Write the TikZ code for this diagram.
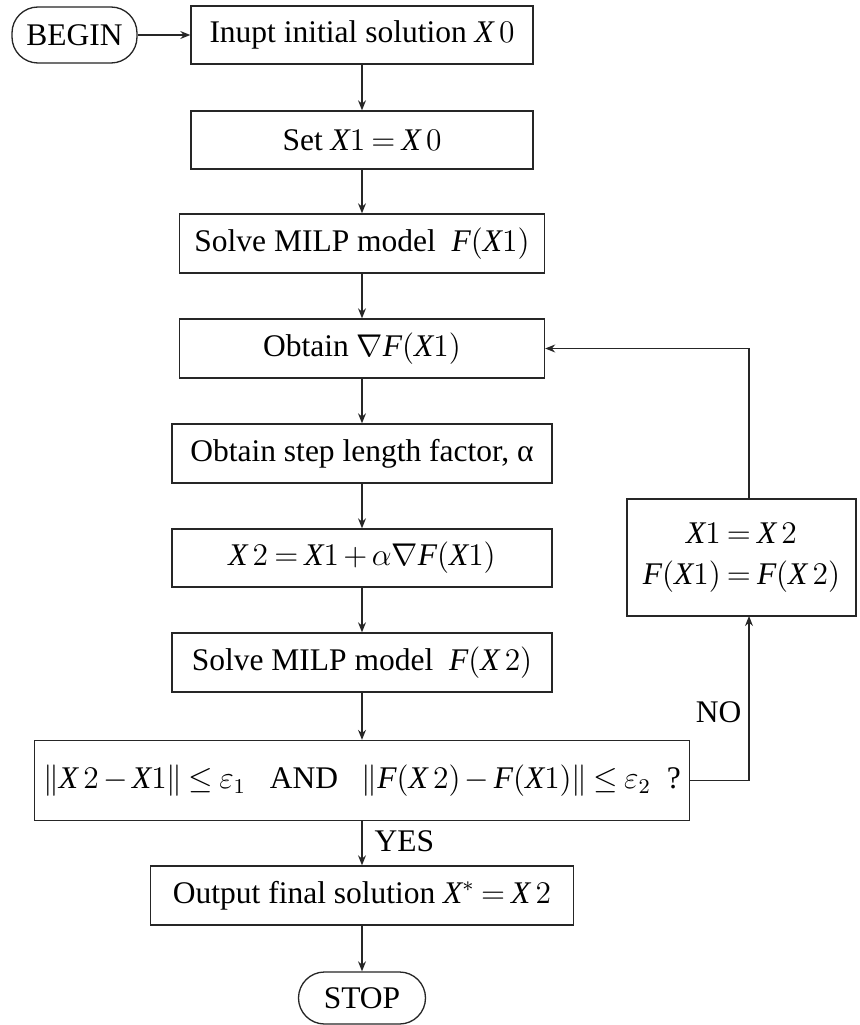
\documentclass[tikz,border=0pt]{standalone}
\usepackage{fontspec}
\setmainfont{Liberation Serif}
\usetikzlibrary{arrows.meta}

\newcommand\vX{\mathit{X}}
\newcommand\vF{\mathit{F}}
% one drawing unit
\newcommand\pu{0.381pt}

\begin{document}
\medmuskip=2.5mu plus 2mu minus 2mu
\thickmuskip=3.5mu plus 2mu
\begin{tikzpicture}[x=\pu,y=-\pu,
  font=\fontsize{12}{14.5}\selectfont,
  box/.style={draw=black!85, line width=0.5pt, minimum height={58*\pu}, inner sep=0pt, align=center},
  term/.style={box, rounded corners={26*\pu}},
  flow/.style={draw=black!85, line width=0.5pt, -{Stealth[length=3.8pt,width=3pt]}},
  lbl/.style={inner sep=0pt}
]
\fill[white] (0,0) rectangle (860,1025);
\useasboundingbox (0,0) rectangle (860,1025);

% main column
\node[term, minimum width={125*\pu}, minimum height={56*\pu}] (begin) at (74.5,35) {BEGIN};
\node[box, minimum width={342*\pu}] (input) at (362,35) {Inupt initial solution $\vX\,0$};
\node[box, minimum width={342*\pu}] (set) at (362,140) {Set $\vX 1 = \vX\,0$};
\node[box, minimum width={365*\pu}, minimum height={59*\pu}] (solve1) at (362,243.5) {Solve MILP model \ $\vF(\vX 1)$};
\node[box, minimum width={365*\pu}, minimum height={59*\pu}] (grad) at (362,348.5) {Obtain $\nabla\vF(\vX 1)$};
\node[box, minimum width={380*\pu}, minimum height={59*\pu}] (steplen) at (362,453.5) {Obtain step length factor, α};
\node[box, minimum width={380*\pu}] (update) at (362,558) {$\vX\,2 = \vX 1 + \alpha\nabla\vF(\vX 1)$};
\node[box, minimum width={380*\pu}, minimum height={59*\pu}] (solve2) at (362,662.5) {Solve MILP model \ $\vF(\vX\,2)$};
\node[box, minimum width={655*\pu}, minimum height={80*\pu}] (cond) at (362,780.5)
  {$\|\vX\,2 - \vX 1\| \le \varepsilon_1$\hspace{0.75em}AND\hspace{0.75em}$\|\vF(\vX\,2) - \vF(\vX 1)\| \le \varepsilon_2$ \ ?};
\node[box, minimum width={423*\pu}, minimum height={59*\pu}] (output) at (362,895.5) {Output final solution $\vX^{*} = \vX\,2$};
\node[term, minimum width={127*\pu}, minimum height={52*\pu}] (stop) at (362,998) {STOP};

% loop-back box
\node[box, minimum width={229*\pu}, minimum height={117*\pu}, font=\fontsize{12}{15.6}\selectfont] (reset) at (741.5,557.5)
  {$\vX 1 = \vX\,2$\\$\vF(\vX 1) = \vF(\vX\,2)$};
\coordinate (loopin) at (749,616);

% connectors
\draw[flow] (begin) -- (input);
\draw[flow] (input) -- (set);
\draw[flow] (set) -- (solve1);
\draw[flow] (solve1) -- (grad);
\draw[flow] (grad) -- (steplen);
\draw[flow] (steplen) -- (update);
\draw[flow] (update) -- (solve2);
\draw[flow] (solve2) -- (cond);
\draw[flow] (cond) -- node[lbl, pos=0.45, right=4.6pt] {YES} (output);
\draw[flow] (output) -- (stop);
\draw[flow] (cond.east) -| (loopin);
\draw[flow] (reset.north -| loopin) |- (grad.east);
\node[lbl, anchor=east] (nolbl) at (742,712) {NO};
\end{tikzpicture}
\end{document}
